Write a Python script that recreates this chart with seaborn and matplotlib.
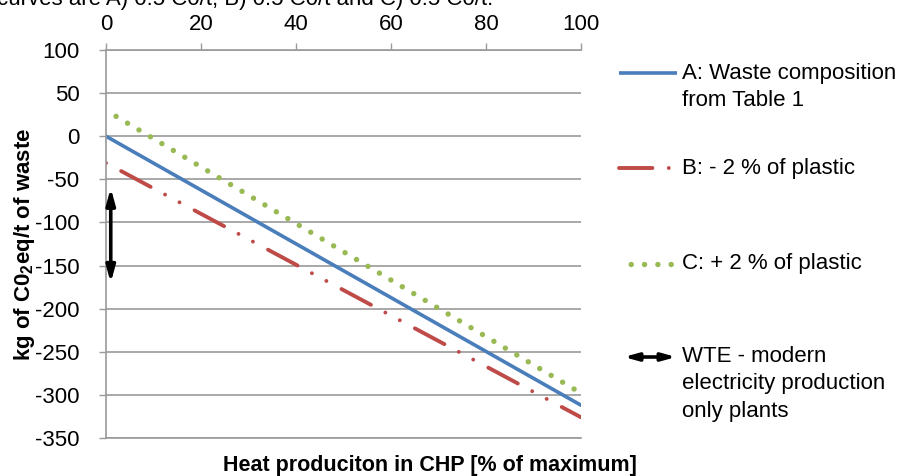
import numpy as np
import pandas as pd
import seaborn as sns
import matplotlib.pyplot as plt
from matplotlib.lines import Line2D
from matplotlib.patches import FancyArrowPatch

# values (two end points per straight line)
heat_pct = [0, 100]
curve_a = [0, -312]
curve_b = [-31, -326]
curve_c = [30, -298]
wte_x = 1.0
wte_range = [-60, -170]

series_names = ["A", "B", "C"]
legend_texts = {
    "A": ["A: Waste composition", "from Table 1"],
    "B": ["B: - 2 % of plastic"],
    "C": ["C: + 2 % of plastic"],
}
wte_text = ["WTE - modern", "electricity production", "only plants"]
caption = "curves are A) 0.5 C0/t, B) 0.5 C0/t and C) 0.5 C0/t."

colors = {"A": "#4a7ebb", "B": "#be4b48", "C": "#98b954"}
widths = {"A": 2.6, "B": 2.8, "C": 3.9}
styles = {
    "A": "-",
    "B": (17.0, (8.6, 4.2, 0.01, 4.2, 0.01, 4.4)),
    "C": (0.3, (0.01, 2.45)),
}

df = pd.DataFrame({
    "heat": heat_pct * 3,
    "co2": curve_a + curve_b + curve_c,
    "curve": ["A"] * 2 + ["B"] * 2 + ["C"] * 2,
})

sns.set_theme(style="white")
plt.rcParams["font.family"] = ["Liberation Sans", "DejaVu Sans"]
plt.rcParams["axes.unicode_minus"] = False
plt.rcParams["mathtext.fontset"] = "custom"
plt.rcParams["mathtext.rm"] = "Liberation Sans"
plt.rcParams["mathtext.bf"] = "Liberation Sans:bold"

W, H = 901, 476
fs = 16
fig = plt.figure(figsize=(W / 100, H / 100), dpi=100)
ax = fig.add_axes([106 / W, 1 - 438 / H, 475 / W, 388 / H])

for name in series_names:
    sns.lineplot(data=df[df.curve == name], x="heat", y="co2", color=colors[name],
                 lw=widths[name], linestyle=styles[name], dash_capstyle="round",
                 ax=ax, legend=False)

ax.annotate("", xy=(wte_x, wte_range[1]), xytext=(wte_x, wte_range[0]),
            arrowprops=dict(arrowstyle="<|-|>,head_length=0.8,head_width=0.22",
                            color="black", lw=2.6, shrinkA=0, shrinkB=0))

grid_c = "#9a9a9a"
ax.set_xlim(0, 100)
ax.set_ylim(-350, 100)
ax.set_xticks(np.arange(0, 101, 20))
ax.set_yticks(np.arange(-350, 101, 50))
ax.xaxis.tick_top()
ax.yaxis.grid(True, color=grid_c, lw=1.2)
ax.xaxis.grid(False)
for side in ["left", "top", "bottom"]:
    ax.spines[side].set_visible(True)
    ax.spines[side].set_color(grid_c)
    ax.spines[side].set_linewidth(1.2)
ax.spines["right"].set_visible(False)
ax.tick_params(axis="y", direction="out", length=5, color=grid_c, width=1,
               labelsize=fs, labelcolor="black", pad=14, left=True)
ax.tick_params(axis="x", direction="out", length=5, color=grid_c, width=1,
               labelsize=fs, labelcolor="black", pad=6, top=True, bottom=False)

ax.set_ylabel(r"kg of C0$_\mathbf{2}$eq/t of waste", fontsize=fs, fontweight="bold",
              color="black")
ax.yaxis.set_label_coords((25 - 106) / 475, 0.5)
ax.yaxis.label.set_va("center")
ax.set_xlabel("Heat produciton in CHP [% of maximum]", fontsize=15.5, fontweight="bold",
              color="black")
ax.xaxis.set_label_position("bottom")
ax.xaxis.set_label_coords((430 - 106) / 475, (438 - 465) / 388)
ax.xaxis.label.set_va("center")

# legend on the right, drawn by hand so the handle sits on the first text line
def fx(px):
    return px / W

def fy(py):
    return 1 - py / H

legend_y = {"A": 73, "B": 168, "C": 264}
legend_styles = {"A": "-", "B": (0, (8.6, 4.2, 0.01, 4.2)), "C": (0.3, (0.01, 2.45))}
line_gap = 27
for name in series_names:
    y0 = legend_y[name]
    fig.add_artist(Line2D([fx(619), fx(677)], [fy(y0), fy(y0)], color=colors[name],
                          lw=widths[name], linestyle=legend_styles[name],
                          dash_capstyle="round", solid_capstyle="butt",
                          transform=fig.transFigure))
    for i, t in enumerate(legend_texts[name]):
        fig.text(fx(682), fy(y0 + i * line_gap), t, fontsize=fs, va="center",
                 ha="left", color="black")

wte_y = 357
fig.add_artist(FancyArrowPatch(
    (fx(621), fy(wte_y)), (fx(679), fy(wte_y)), transform=fig.transFigure,
    arrowstyle="<|-|>,head_length=0.8,head_width=0.22", color="black", lw=2.6,
    mutation_scale=10))
for i, t in enumerate(wte_text):
    fig.text(fx(682), fy(wte_y + i * line_gap), t, fontsize=fs, va="center",
             ha="left", color="black")

# clipped caption line from the source page
fig.text(fx(-3), fy(5), caption, fontsize=fs, va="baseline", ha="left", color="black")

fig.savefig("out.png", dpi=100)
